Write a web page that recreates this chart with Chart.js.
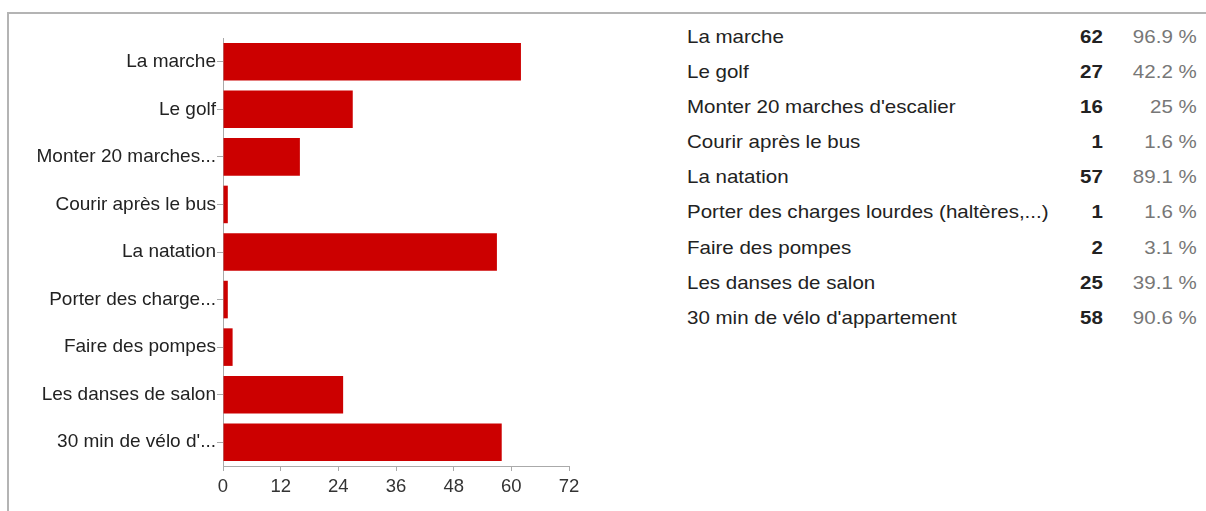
<!DOCTYPE html>
<html>
<head>
<meta charset="utf-8">
<script src="https://cdn.jsdelivr.net/npm/chart.js@4"></script>
<style>
  html, body { margin: 0; padding: 0; background: #fff; }
  body { width: 1206px; height: 511px; position: relative; overflow: hidden; font-family: "Liberation Sans", Arial, sans-serif; }
  .frame { position: absolute; left: 7px; top: 12px; right: 0; bottom: -4px; border-top: 2px solid #b4b4b4; border-left: 2px solid #b4b4b4; }
  #chartBox { position: absolute; left: 0; top: 0; width: 600px; height: 511px; }
  /* summary list, drawn slightly wide like the bar labels */
  #summary { position: absolute; left: 687px; top: 19px; width: 472px; transform: scaleX(1.08); transform-origin: 0 0; font-size: 19px; color: #222; }
  #summary .row { position: relative; height: 35.1px; line-height: 35.1px; white-space: nowrap; }
  #summary .count { position: absolute; right: 87px; top: 0; font-weight: bold; }
  #summary .pct { position: absolute; right: 0; top: 0; color: #777; }
</style>
</head>
<body>
<div class="frame"></div>
<div id="chartBox"><canvas id="bars" width="600" height="511"></canvas></div>
<div id="summary"></div>
<script>
// answers, in survey order
const categories = [
  "La marche",
  "Le golf",
  "Monter 20 marches d'escalier",
  "Courir après le bus",
  "La natation",
  "Porter des charges lourdes (haltères,...)",
  "Faire des pompes",
  "Les danses de salon",
  "30 min de vélo d'appartement"
];
// shortened names shown on the bar axis
const axisLabels = [
  "La marche",
  "Le golf",
  "Monter 20 marches...",
  "Courir après le bus",
  "La natation",
  "Porter des charge...",
  "Faire des pompes",
  "Les danses de salon",
  "30 min de vélo d'..."
];
const counts = [62, 27, 16, 1, 57, 1, 2, 25, 58];
const percents = ["96.9 %", "42.2 %", "25 %", "1.6 %", "89.1 %", "1.6 %", "3.1 %", "39.1 %", "90.6 %"];
const xTicks = [0, 12, 24, 36, 48, 60, 72];

// summary list on the right
const box = document.getElementById("summary");
categories.forEach((c, i) => {
  const row = document.createElement("div");
  row.className = "row";
  row.innerHTML = "<span class='name'></span><span class='count'></span><span class='pct'></span>";
  row.children[0].textContent = c;
  row.children[1].textContent = counts[i];
  row.children[2].textContent = percents[i];
  box.appendChild(row);
});

Chart.defaults.font.family = '"Liberation Sans", Arial, sans-serif';
Chart.defaults.color = "#222";

new Chart(document.getElementById("bars"), {
  type: "bar",
  data: {
    labels: axisLabels,
    datasets: [{
      data: counts,
      backgroundColor: "#cc0000",
      borderWidth: 0,
      barPercentage: 0.79,
      categoryPercentage: 1
    }]
  },
  options: {
    indexAxis: "y",
    responsive: false,
    animation: false,
    layout: { padding: { top: 38, right: 31, left: 0, bottom: 0 } },
    plugins: { legend: { display: false }, tooltip: { enabled: false } },
    scales: {
      x: {
        min: 0,
        max: 72,
        afterBuildTicks: s => { s.ticks = xTicks.map(v => ({ value: v })); },
        grid: { drawOnChartArea: false, drawTicks: true, tickLength: 5, color: "#aaa" },
        border: { display: true, color: "#aaa" },
        ticks: { font: { size: 18.5 }, color: "#333", padding: 5 },
        afterFit: s => { s.height = 45; }
      },
      y: {
        grid: { drawOnChartArea: false, drawTicks: true, tickLength: 6, color: "#aaa", offset: false },
        border: { display: true, color: "#aaa" },
        ticks: { font: { size: 19 }, color: "#222", padding: 1 },
        afterFit: s => { s.width = 223; }
      }
    }
  }
});
</script>
</body>
</html>
